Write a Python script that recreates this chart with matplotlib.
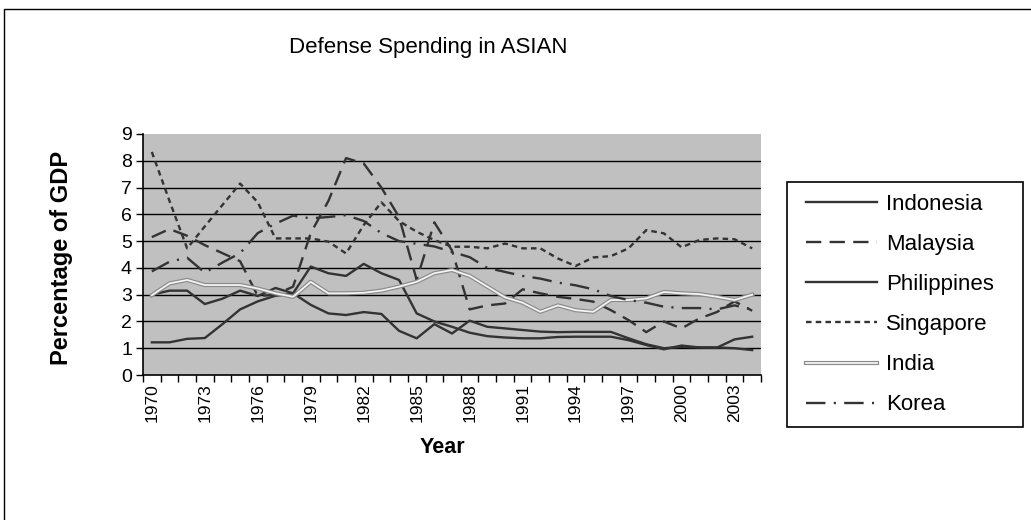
import numpy as np
import matplotlib
matplotlib.use('Agg')
import matplotlib.pyplot as plt
import matplotlib.patheffects as pe
from matplotlib.patches import Rectangle

plt.rcParams['font.family'] = ['Liberation Sans', 'DejaVu Sans']
plt.rcParams['lines.scale_dashes'] = False

# data (% of GDP)
years = list(range(1970, 2005))
indonesia = [3.0, 3.15, 3.15, 2.65, 2.85, 3.15, 2.95, 3.25, 3.05, 4.05,
             3.8, 3.7, 4.15, 3.8, 3.55, 2.3, 2.0, 1.8, 1.58, 1.45,
             1.4, 1.37, 1.37, 1.42, 1.43, 1.43, 1.43, 1.3, 1.12, 0.96,
             1.1, 1.03, 1.03, 1.0, 0.93]
malaysia = [5.15, 5.45, 5.2, 4.85, 4.55, 4.25, 2.95, 3.0, 3.3, 5.3,
            6.5, 8.1, 7.9, 7.0, 5.9, 3.55, 5.7, 4.65, 2.45, 2.6,
            2.67, 3.2, 3.05, 2.92, 2.84, 2.74, 2.42, 2.05, 1.6, 2.0,
            1.74, 2.11, 2.35, 2.75, 2.4]
philippines = [1.22, 1.22, 1.35, 1.38, 1.9, 2.45, 2.75, 2.96, 3.05, 2.62,
               2.3, 2.24, 2.35, 2.28, 1.65, 1.37, 1.9, 1.55, 2.03, 1.8,
               1.74, 1.68, 1.62, 1.6, 1.61, 1.61, 1.61, 1.37, 1.15, 1.0,
               1.05, 1.03, 1.02, 1.33, 1.43]
singapore = [8.33, 6.5, 4.73, 5.55, 6.35, 7.15, 6.45, 5.1, 5.1, 5.1,
             4.98, 4.54, 5.6, 6.45, 5.75, 5.35, 5.04, 4.79, 4.79, 4.73,
             4.91, 4.73, 4.73, 4.35, 4.07, 4.39, 4.44, 4.73, 5.41, 5.29,
             4.77, 5.04, 5.1, 5.07, 4.73]
india = [2.98, 3.42, 3.55, 3.36, 3.36, 3.36, 3.23, 3.05, 2.92, 3.48,
         3.05, 3.05, 3.07, 3.15, 3.3, 3.48, 3.8, 3.92, 3.7, 3.3,
         2.9, 2.7, 2.36, 2.6, 2.42, 2.36, 2.8, 2.8, 2.86, 3.1,
         3.05, 3.02, 2.92, 2.8, 3.0]
korea = [3.87, 4.23, 4.38, 3.82, 4.2, 4.55, 5.3, 5.65, 5.95, 5.85,
         5.9, 5.97, 5.75, 5.3, 5.0, 4.9, 4.8, 4.6, 4.4, 4.0,
         3.85, 3.7, 3.6, 3.45, 3.35, 3.2, 2.95, 2.8, 2.7, 2.55,
         2.5, 2.5, 2.45, 2.6, 2.45]

W, H = 1031, 520
fig = plt.figure(figsize=(W / 100, H / 100), dpi=100)
# outer chart frame (right and bottom edges fall outside the picture)
fig.patches.append(Rectangle((4 / W, -10 / H), 1040 / W, 521 / H, transform=fig.transFigure,
                             fill=False, edgecolor='black', lw=1))
# legend box
fig.patches.append(Rectangle((787 / W, 1 - 427 / H), 236 / W, 245 / H, transform=fig.transFigure,
                             fill=False, edgecolor='black', lw=1.2))

ax = fig.add_axes([143 / W, 1 - 375 / H, 618 / W, 241 / H])
ax.set_facecolor('#c0c0c0')

x = np.arange(len(years))
dark = '#333333'
lw = 1.7
ax.plot(x, indonesia, color=dark, lw=lw, label='Indonesia')
ax.plot(x, malaysia, color=dark, lw=lw, linestyle=(0, (11, 6)), label='Malaysia')
ax.plot(x, philippines, color=dark, lw=lw, label='Philippines')
ax.plot(x, singapore, color=dark, lw=lw, linestyle=(0, (4, 3)), label='Singapore')
ax.plot(x, india, color='#f4f4f4', lw=1.3, label='India',
        path_effects=[pe.Stroke(linewidth=3.0, foreground='#8a8a8a'), pe.Normal()])
ax.plot(x, korea, color=dark, lw=lw, linestyle=(0, (14, 6, 1.5, 6)), label='Korea')

ax.set_xlim(-0.5, len(years) - 0.5)
ax.set_ylim(0, 9)
ax.set_yticks(range(10))
ax.set_yticklabels([str(v) for v in range(10)], fontsize=14)
for v in range(1, 9):
    ax.axhline(v, color='black', lw=1.0, zorder=1)

ax.set_xticks(np.arange(-0.5, len(years), 1))
ax.set_xticklabels([])
ax.set_xticks(x[::3], minor=True)
ax.set_xticklabels([str(y) for y in years[::3]], minor=True, rotation=90, fontsize=12.5)
ax.tick_params(axis='x', which='major', length=5, width=1, direction='out')
ax.tick_params(axis='x', which='minor', length=0, pad=6)
ax.tick_params(axis='y', length=5, width=1, direction='out', pad=3)

for s in ['top', 'right']:
    ax.spines[s].set_visible(False)
ax.spines['left'].set_linewidth(1.2)
ax.spines['bottom'].set_linewidth(1.2)

ax.set_ylabel('Percentage of GDP', fontsize=17, fontweight='bold')
ax.yaxis.set_label_coords((73 - 143) / 618, 0.485)
ax.set_xlabel('Year', fontsize=15.5, fontweight='bold')
ax.xaxis.set_label_coords(0.485, (375 - 437) / 241)

fig.text(428 / W, 1 - 47 / H, 'Defense Spending in ASIAN', fontsize=16,
         ha='center', va='center')

leg = fig.legend(loc='upper left', bbox_to_anchor=(797 / W, 1 - 185 / H),
                 fontsize=16, frameon=False,
                 handlelength=3.2, handletextpad=0.4, labelspacing=0.86,
                 borderpad=0.4, borderaxespad=0)

fig.savefig('out.png', dpi=100)
